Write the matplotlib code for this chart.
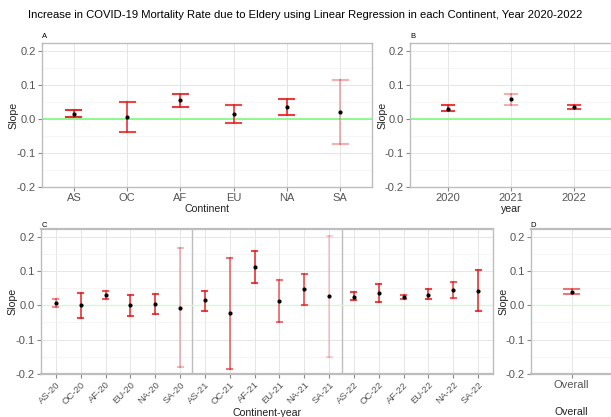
import matplotlib
matplotlib.use('Agg')
import matplotlib.pyplot as plt
from matplotlib.ticker import MultipleLocator

plt.rcParams['font.family'] = ['Liberation Sans', 'DejaVu Sans']

# Panel A - by continent
contLabels = ['AS', 'OC', 'AF', 'EU', 'NA', 'SA']
contSlope = [0.015, 0.005, 0.055, 0.015, 0.033, 0.019]
contLow = [0.004, -0.038, 0.035, -0.012, 0.010, -0.075]
contHigh = [0.025, 0.050, 0.074, 0.040, 0.057, 0.113]
contAlpha = [0.9, 0.8, 0.85, 0.8, 0.85, 0.35]

# Panel B - by year
yearLabels = ['2020', '2021', '2022']
yearSlope = [0.030, 0.057, 0.035]
yearLow = [0.024, 0.041, 0.030]
yearHigh = [0.039, 0.073, 0.039]
yearAlpha = [0.85, 0.35, 0.8]

# Panel C - continent-year
cyLabels = ['AS-20', 'OC-20', 'AF-20', 'EU-20', 'NA-20', 'SA-20',
            'AS-21', 'OC-21', 'AF-21', 'EU-21', 'NA-21', 'SA-21',
            'AS-22', 'OC-22', 'AF-22', 'EU-22', 'NA-22', 'SA-22']
cySlope = [0.006, 0.000, 0.029, 0.000, 0.004, -0.007,
           0.014, -0.023, 0.112, 0.013, 0.047, 0.027,
           0.025, 0.037, 0.024, 0.031, 0.045, 0.043]
cyLow = [-0.006, -0.037, 0.017, -0.030, -0.026, -0.180,
         -0.016, -0.184, 0.066, -0.049, 0.001, -0.150,
         0.015, 0.010, 0.017, 0.017, 0.021, -0.017]
cyHigh = [0.017, 0.037, 0.042, 0.031, 0.034, 0.167,
          0.042, 0.137, 0.157, 0.073, 0.091, 0.203,
          0.038, 0.062, 0.029, 0.047, 0.068, 0.103]
cyAlpha = [0.5, 0.8, 0.7, 0.8, 0.8, 0.3,
           0.8, 0.6, 0.8, 0.6, 0.7, 0.2,
           0.8, 0.8, 0.7, 0.8, 0.7, 0.8]

# Panel D - overall
allLabels = ['Overall']
allSlope = [0.040]
allLow = [0.034]
allHigh = [0.047]
allAlpha = [0.6]

W, H = 611, 417
fig = plt.figure(figsize=(W / 100, H / 100), dpi=100)

def box(l, t, r, b):
    return [l / W, 1 - b / H, (r - l) / W, (b - t) / H]

axA = fig.add_axes(box(42, 43, 372, 187))
axB = fig.add_axes(box(410, 43, 612, 187))
axC = fig.add_axes(box(41, 229, 493, 374))
axD = fig.add_axes(box(531, 229, 612, 374))

# Function that draws one slope panel
def drawPanel(ax, labels, slope, low, high, alpha, cap, lineCol, lineW, rot=0):
    x = list(range(len(labels)))
    for i in x:
        ax.plot([i, i], [low[i], high[i]], color='#E41A1C', alpha=alpha[i], lw=1.3, zorder=3)
        ax.plot([i - cap, i + cap], [low[i], low[i]], color='#E41A1C', alpha=alpha[i], lw=1.5, zorder=3)
        ax.plot([i - cap, i + cap], [high[i], high[i]], color='#E41A1C', alpha=alpha[i], lw=1.5, zorder=3)
    ax.scatter(x, slope, s=4, color='black', zorder=4)
    ax.axhline(0, color=lineCol, lw=lineW, zorder=2)
    ax.set_xlim(-0.6, len(labels) - 0.4)
    ax.set_ylim(-0.2, 0.222)
    ax.yaxis.set_minor_locator(MultipleLocator(0.05))
    ax.set_yticks([-0.2, -0.1, 0.0, 0.1, 0.2])
    ax.set_yticklabels(['-0.2', '-0.1', '0.0', '0.1', '0.2'])
    ax.set_xticks(x)
    if rot:
        ax.set_xticklabels(labels, rotation=rot, ha='right', rotation_mode='anchor', fontsize=6.8)
    else:
        ax.set_xticklabels(labels, fontsize=8)
    ax.grid(which='major', color='#E6E6E6', lw=0.7, zorder=0)
    ax.grid(which='minor', axis='y', color='#F2F2F2', lw=0.5, zorder=0)
    ax.set_axisbelow(True)
    ax.tick_params(axis='both', which='major', length=3, color='#888888', labelcolor='#555555', pad=1.5)
    ax.tick_params(axis='y', which='major', labelsize=8)
    ax.tick_params(axis='y', which='minor', length=0)
    for s in ax.spines.values():
        s.set_color('#BDBDBD')
        s.set_linewidth(1.0)
    ax.set_ylabel('Slope', fontsize=7.6, color='#222222')
    ax.yaxis.label.set_va('center')
    ax.xaxis.label.set_va('center')

drawPanel(axA, contLabels, contSlope, contLow, contHigh, contAlpha, 0.14, '#7CFC7C', 1.2)
axA.set_xlabel('Continent', fontsize=7.6, color='#222222')
axA.yaxis.set_label_coords(-0.085, 0.5)
axA.xaxis.set_label_coords(0.5, -0.15)

drawPanel(axB, yearLabels, yearSlope, yearLow, yearHigh, yearAlpha, 0.1, '#7CFC7C', 1.2)
axB.set_xlabel('year', fontsize=7.6, color='#222222')
axB.yaxis.set_label_coords(-0.134, 0.5)
axB.xaxis.set_label_coords(0.5, -0.155)

drawPanel(axC, cyLabels, cySlope, cyLow, cyHigh, cyAlpha, 0.1, '#D8F5D8', 1.0, rot=45)
axC.axvline(5.5, color='#BDBDBD', lw=1.0, zorder=1)
axC.axvline(11.5, color='#BDBDBD', lw=1.0, zorder=1)
axC.set_xlabel('Continent-year', fontsize=7.6, color='#222222')
axC.yaxis.set_label_coords(-0.064, 0.5)
axC.xaxis.set_label_coords(0.5, -0.27)
axC.spines['top'].set_linewidth(1.6)
axC.spines['bottom'].set_linewidth(1.6)

drawPanel(axD, allLabels, allSlope, allLow, allHigh, allAlpha, 0.11, '#D8F5D8', 1.0)
axD.set_xlabel('Overall', fontsize=7.6, color='#222222')
axD.yaxis.set_label_coords(-0.346, 0.5)
axD.xaxis.set_label_coords(0.5, -0.262)
axD.spines['top'].set_linewidth(1.6)
axD.spines['bottom'].set_linewidth(1.6)

# Panel tags
fig.text(42 / W, 1 - 36 / H, 'A', fontsize=5.5, va='center')
fig.text(410 / W, 1 - 36 / H, 'B', fontsize=5.5, va='center')
fig.text(42 / W, 1 - 226 / H, 'C', fontsize=5.5, va='center')
fig.text(530 / W, 1 - 226 / H, 'D', fontsize=5.5, va='center')

fig.text(0.5, 1 - 15 / H,
         'Increase in COVID-19 Mortality Rate due to Eldery using Linear Regression in each Continent, Year 2020-2022',
         ha='center', va='center', fontsize=8.15)

plt.savefig('out.png', dpi=100)
